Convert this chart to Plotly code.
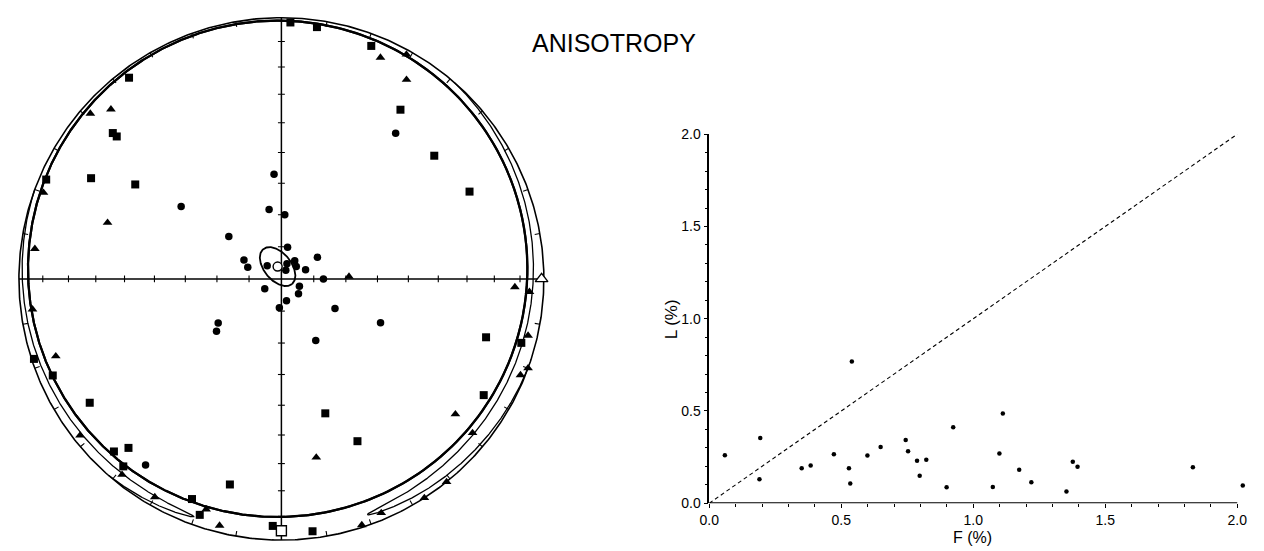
import numpy as np
import plotly.graph_objects as go

# ---------------- Stereonet data (lower hemisphere, equal area) ----------------
# Principal susceptibility axes: declination / inclination in degrees
k1_dec = [2, 8, 21, 35, 51, 65, 323, 311, 311, 293, 298, 303, 252, 247, 237, 224,
          222, 220, 202, 199, 194, 182, 106, 105, 120, 162, 155, 173]
k1_inc = [2, 3, 5, 22, 26, 22, 4, 16, 18, 3, 19, 34, 1, 6, 14, 9,
          14, 7, 10, 5, 20, 6, 20, 6, 12, 45, 32, 3]

k2_dec = [315, 311, 290, 288, 277, 24, 29, 32, 263, 251, 232, 219, 210, 198,
          194, 92, 93, 103, 110, 112, 128, 129, 141, 147, 157, 162, 169, 88]
k2_inc = [9, 4, 4, 31, 6, 8, 2, 11, 5, 10, 3, 4, 4, 8,
          3, 12, 6, 4, 0, 2, 17, 7, 0, 0, 3, 1, 31, 69]

k3_dec = [356, 38, 306, 350, 3, 309, 11, 59, 297, 289, 313, 20, 36, 50,
          69, 90, 112, 239, 131, 167, 184, 119, 114, 235, 231, 151, 216, 27]
k3_inc = [57, 30, 51, 68, 70, 69, 80, 77, 77, 79, 84, 85, 83, 84,
          82, 77, 84, 84, 83, 83, 81, 71, 56, 66, 64, 68, 13, 87]

# Mean axes (dec, inc)
k1_mean = (180, 4)
k2_mean = (90, 1)
k3_mean = (343, 86)

# Confidence regions
girdle_pole = (340, 85.5)      # pole of the K1-K2 girdle plane
k1_band_halfwidth = 5.5        # K1 region: band about the girdle (deg)
k2_conf_lon = 90               # K2 ellipse centre, longitude along the girdle
k2_conf_semi = (70, 3)         # K2 ellipse semi-axes: along girdle, across (deg)
k3_conf_semi = (7.0, 4.2)      # K3 ellipse semi-axes (deg)
k3_conf_trend = 141            # trend of K3 ellipse major axis

# ---------------- Shape parameters: L vs F (%) ----------------
F_pct = [0.059, 0.193, 0.19, 0.35, 0.384, 0.472, 0.529, 0.534, 0.54, 0.599,
         0.649, 0.744, 0.753, 0.787, 0.797, 0.822, 0.899, 0.924, 1.074, 1.099,
         1.112, 1.174, 1.22, 1.353, 1.377, 1.395, 1.832, 2.021]
L_pct = [0.26, 0.354, 0.13, 0.19, 0.205, 0.265, 0.19, 0.107, 0.768, 0.258,
         0.305, 0.342, 0.282, 0.23, 0.149, 0.235, 0.086, 0.412, 0.088, 0.27,
         0.486, 0.181, 0.114, 0.063, 0.225, 0.198, 0.195, 0.096]
axis_max = 2.0
x_view_max = 2.03   # room for the sample just past the end of the F axis


# ---------------- projection helpers ----------------
def eqarea(dec, inc):
    d = np.radians(np.asarray(dec, float))
    inc = np.asarray(inc, float)
    r = np.sqrt(2) * np.sin(np.radians(90 - inc) / 2)
    return r * np.sin(d), r * np.cos(d)


def dirvec(dec, inc):
    d, i = np.radians(dec), np.radians(inc)
    return np.array([np.cos(i) * np.cos(d), np.cos(i) * np.sin(d), np.sin(i)])


def project_vecs(V):
    V = np.where(V[:, 2:3] < 0, -V, V)          # upper hemisphere -> antipode
    inc = np.degrees(np.arcsin(np.clip(V[:, 2], -1, 1)))
    dec = np.degrees(np.arctan2(V[:, 1], V[:, 0]))
    return eqarea(dec, inc)


def broken(x, y, jump=0.4):
    xs, ys = [x[0]], [y[0]]
    for i in range(1, len(x)):
        if np.hypot(x[i] - x[i - 1], y[i] - y[i - 1]) > jump:
            xs.append(None)
            ys.append(None)
        xs.append(x[i])
        ys.append(y[i])
    return xs, ys


# girdle frame: n = pole, e1 toward north, e2 toward east
n = dirvec(*girdle_pole)
e1 = np.array([1.0, 0.0, 0.0]) - n[0] * n
e1 /= np.linalg.norm(e1)
e2 = np.cross(n, e1)


def girdle_points(lon_deg, lat_deg):
    lo = np.radians(lon_deg)[:, None]
    la = np.radians(lat_deg)[:, None]
    return np.cos(la) * (np.cos(lo) * e1 + np.sin(lo) * e2) + np.sin(la) * n


def cone_ellipse(mean, semi, trend, npts=361):
    m = dirvec(*mean)
    u0 = dirvec(trend, 0)
    u = u0 - np.dot(u0, m) * m
    u /= np.linalg.norm(u)
    v = np.cross(m, u)
    a, b = np.radians(semi[0]), np.radians(semi[1])
    t = np.linspace(0, 2 * np.pi, npts)
    rho = a * b / np.sqrt((b * np.cos(t)) ** 2 + (a * np.sin(t)) ** 2)
    V = (np.cos(rho)[:, None] * m
         + np.sin(rho)[:, None] * (np.cos(t)[:, None] * u + np.sin(t)[:, None] * v))
    return V


fig = go.Figure()
BLACK = "black"

# primitive circle
az = np.linspace(0, 360, 721)
px, py = eqarea(az, np.zeros_like(az))
fig.add_trace(go.Scatter(x=px, y=py, mode="lines", line=dict(color=BLACK, width=1.6),
                         hoverinfo="skip", xaxis="x", yaxis="y"))

# N-S and E-W lines
fig.add_trace(go.Scatter(x=[-1, 1, None, 0, 0], y=[0, 0, None, -1, 1], mode="lines",
                         line=dict(color=BLACK, width=1.5), hoverinfo="skip",
                         xaxis="x", yaxis="y"))

# tick marks: inclination every 10 deg along the axes, azimuth every 10 deg on the primitive
tx, ty = [], []
hx, hy = 3.5 / 265, 3.5 / 269
for inc in range(10, 90, 10):
    r = eqarea(90, inc)[0]
    for s in (-1, 1):
        tx += [s * r, s * r, None, -hx, hx, None]
        ty += [-hy, hy, None, s * r, s * r, None]
for a in range(10, 360, 10):
    if a % 90 == 0:
        continue
    ar = np.radians(a)
    tx += [np.sin(ar), 0.98 * np.sin(ar), None]
    ty += [np.cos(ar), 0.98 * np.cos(ar), None]
fig.add_trace(go.Scatter(x=tx, y=ty, mode="lines", line=dict(color=BLACK, width=1.1),
                         hoverinfo="skip", xaxis="x", yaxis="y"))

# K1 confidence band about the girdle
lon = np.linspace(0, 360, 1441)
for lat in (k1_band_halfwidth, -k1_band_halfwidth):
    V = girdle_points(lon, np.full_like(lon, lat))
    bx, by = broken(*project_vecs(V))
    fig.add_trace(go.Scatter(x=bx, y=by, mode="lines", line=dict(color=BLACK, width=2.2),
                             hoverinfo="skip", xaxis="x", yaxis="y"))

# K2 confidence ellipse, elongated along the girdle
t = np.linspace(0, 2 * np.pi, 1441)
V = girdle_points(k2_conf_lon + k2_conf_semi[0] * np.cos(t), k2_conf_semi[1] * np.sin(t))
bx, by = broken(*project_vecs(V))
fig.add_trace(go.Scatter(x=bx, y=by, mode="lines", line=dict(color=BLACK, width=1.3),
                         hoverinfo="skip", xaxis="x", yaxis="y"))

# K3 confidence ellipse
V = cone_ellipse(k3_mean, k3_conf_semi, k3_conf_trend)
bx, by = broken(*project_vecs(V))
fig.add_trace(go.Scatter(x=bx, y=by, mode="lines", line=dict(color=BLACK, width=1.8),
                         hoverinfo="skip", xaxis="x", yaxis="y"))

# individual axes
for dec, inc, sym, size in ((k1_dec, k1_inc, "square", 8),
                            (k2_dec, k2_inc, "triangle-up", 8.5),
                            (k3_dec, k3_inc, "circle", 7.5)):
    x, y = eqarea(dec, inc)
    fig.add_trace(go.Scatter(x=x, y=y, mode="markers", cliponaxis=False,
                             marker=dict(symbol=sym, size=size, color=BLACK, line=dict(width=0)),
                             hoverinfo="skip", xaxis="x", yaxis="y"))

# mean axes (open symbols)
for mean, sym, size in ((k1_mean, "square", 10), (k2_mean, "triangle-up", 11),
                        (k3_mean, "circle", 9)):
    x, y = eqarea([mean[0]], [mean[1]])
    fig.add_trace(go.Scatter(x=x, y=y, mode="markers", cliponaxis=False,
                             marker=dict(symbol=sym, size=size, color="white",
                                         line=dict(width=1.4, color=BLACK)),
                             hoverinfo="skip", xaxis="x", yaxis="y"))

# ---------------- L vs F panel ----------------
fig.add_trace(go.Scatter(x=[0, axis_max], y=[0, axis_max], mode="lines",
                         line=dict(color=BLACK, width=1.1, dash="4px,3px"),
                         hoverinfo="skip", xaxis="x2", yaxis="y2"))
fig.add_trace(go.Scatter(x=F_pct, y=L_pct, mode="markers", cliponaxis=False,
                         marker=dict(size=4.5, color=BLACK),
                         hoverinfo="skip", xaxis="x2", yaxis="y2"))

FONT = "Liberation Sans, Arial, Helvetica, sans-serif"
axis_common = dict(ticks="outside", ticklen=4, tickwidth=1.2, tickcolor=BLACK,
                   dtick=0.5, tick0=0, tickformat=".1f",
                   tickfont=dict(family=FONT, size=14, color=BLACK),
                   showgrid=False, zeroline=False,
                   minor=dict(dtick=0.1, ticks="outside", ticklen=2.5, tickwidth=1,
                              tickcolor=BLACK, showgrid=False))

W, H = 1264, 551
cx, cy, Rx, Ry = 274, 279, 265, 269
xr = (-1.03, 1.03)
yr = (-1.005, 1.03)
f0, f_unit = 706, 266.5          # pixel of F = 0 and pixels per 1 %

fig.update_layout(
    width=W, height=H, margin=dict(l=0, r=0, t=0, b=0),
    paper_bgcolor="white", plot_bgcolor="white", showlegend=False,
    xaxis=dict(domain=[(cx + xr[0] * Rx) / W, (cx + xr[1] * Rx) / W], range=list(xr),
               visible=False, anchor="y"),
    yaxis=dict(domain=[(H - (cy - yr[0] * Ry)) / H, (H - (cy - yr[1] * Ry)) / H],
               range=list(yr), visible=False, anchor="x"),
    xaxis2=dict(domain=[f0 / W, (f0 + x_view_max * f_unit) / W], range=[0, x_view_max],
                anchor="y2", showline=False, **axis_common),
    yaxis2=dict(domain=[(H - 510) / H, (H - 130) / H], range=[0, axis_max], anchor="x2",
                showline=True, linecolor=BLACK, linewidth=1.5, **axis_common),
    shapes=[dict(type="line", xref="x2", yref="y2", x0=0, x1=axis_max, y0=0, y1=0,
                 line=dict(color=BLACK, width=2))],
    annotations=[
        dict(text="ANISOTROPY", x=610 / W, y=(H - 36) / H, xref="paper", yref="paper",
             showarrow=False, xanchor="center", yanchor="middle",
             font=dict(family=FONT, size=25, color=BLACK)),
        dict(text="F (%)", x=972 / W, y=(H - 545) / H, xref="paper", yref="paper",
             showarrow=False, xanchor="center", yanchor="middle",
             font=dict(family=FONT, size=16, color=BLACK)),
        dict(text="L (%)", x=668 / W, y=(H - 321) / H, xref="paper", yref="paper",
             showarrow=False, xanchor="center", yanchor="middle", textangle=-90,
             font=dict(family=FONT, size=17, color=BLACK)),
    ],
)

fig.write_html("out.html")
